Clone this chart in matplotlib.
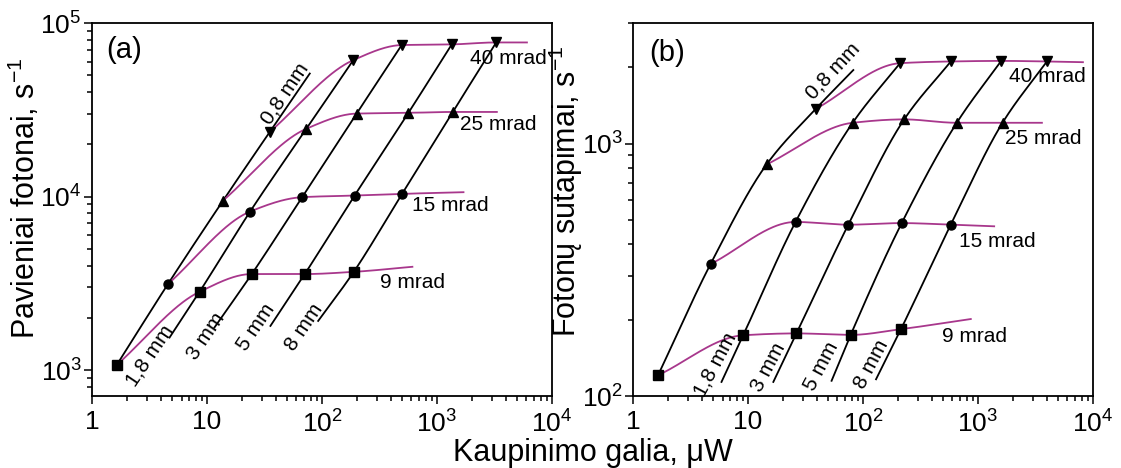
import numpy as np
import matplotlib
matplotlib.use('Agg')
import matplotlib.pyplot as plt
from matplotlib.ticker import LogLocator, NullFormatter

plt.rcParams['font.family'] = ['Liberation Sans', 'DejaVu Sans']
plt.rcParams['mathtext.fontset'] = 'custom'
plt.rcParams['mathtext.rm'] = 'Liberation Sans'
plt.rcParams['mathtext.it'] = 'Liberation Sans:italic'

# rows: slit width (mm), columns: divergence (mrad)
mm_labels = ['0,8 mm', '1,8 mm', '3 mm', '5 mm', '8 mm']
mrad_labels = ['9 mrad', '15 mrad', '25 mrad', '40 mrad']
x_tick_labels = ['1', '10', '10$^2$', '10$^3$', '10$^4$']

# panel (a): single photons
a_power = [[1.64, 4.57, 13.8, 35.1],
           [8.62, 23.7, 73.3, 187],
           [24.5, 67.2, 200, 493],
           [70.8, 192, 564, 1344],
           [189, 497, 1372, 3273]]
a_counts = [[1069, 3127, 9480, 23550],
            [2825, 8190, 24600, 61100],
            [3573, 9911, 30060, 74640],
            [3573, 10130, 30340, 75300],
            [3680, 10360, 30720, 77280]]
a_start_power = [4.72, 11.6, 35.6, 92.6]      # lower ends of 1,8 .. 8 mm lines
a_start_counts = [1538, 1758, 1795, 1918]
a_end_power = 78.3                             # upper end of 0,8 mm line
a_end_counts = 51160
a_tail_power = [611, 1700, 3316, 6056]         # right ends of mrad curves
a_tail_counts = [3935, 10590, 30720, 77280]

# panel (b): coincidences
b_power = [[1.65, 4.72, 14.5, 38.7],
           [9.08, 25.9, 81.3, 210],
           [26.4, 74.5, 228, 580],
           [78.1, 217, 654, 1592],
           [214, 580, 1634, 3975]]
b_counts = [[120.8, 333, 826, 1369],
            [174, 489, 1208, 2080],
            [177, 477, 1246, 2113],
            [174.6, 484, 1208, 2124],
            [184, 477, 1208, 2113]]
b_start_power = [5.88, 16.6, 53.3, 129.8]
b_start_counts = [113.7, 113.7, 114.9, 116.5]
b_end_power = 82.4
b_end_counts = 1954
b_tail_power = [866, 1383, 3597, 8180]
b_tail_counts = [201.8, 470, 1208, 2099]

markers = ['s', 'o', '^', 'v']
curve_color = '#a8378c'


def pchip(xs, ys, xn):
    # monotone cubic through the points, used only to draw smooth lines
    h = np.diff(xs)
    d = np.diff(ys) / h
    m = np.empty_like(ys)
    m[0] = d[0]
    m[-1] = d[-1]
    for k in range(1, len(xs) - 1):
        if d[k - 1] * d[k] <= 0:
            m[k] = 0
        else:
            w1 = 2 * h[k] + h[k - 1]
            w2 = h[k] + 2 * h[k - 1]
            m[k] = (w1 + w2) / (w1 / d[k - 1] + w2 / d[k])
    i = np.clip(np.searchsorted(xs, xn) - 1, 0, len(xs) - 2)
    t = (xn - xs[i]) / h[i]
    return ((2 * t**3 - 3 * t**2 + 1) * ys[i] + (t**3 - 2 * t**2 + t) * h[i] * m[i]
            + (-2 * t**3 + 3 * t**2) * ys[i + 1] + (t**3 - t**2) * h[i] * m[i + 1])


def smooth_plot(ax, x, y, **kw):
    lx = np.log10(np.asarray(x, float))
    ly = np.log10(np.asarray(y, float))
    xn = np.linspace(lx[0], lx[-1], 300)
    ax.plot(10**xn, 10**pchip(lx, ly, xn), **kw)


def panel(ax, power, counts, sp, sc, ep, ec, tp, tc):
    power = np.array(power)
    counts = np.array(counts)
    # black lines, one per slit
    for i in range(5):
        if i == 0:
            x = list(power[0]) + [ep]
            y = list(counts[0]) + [ec]
        else:
            x = [sp[i - 1]] + list(power[i])
            y = [sc[i - 1]] + list(counts[i])
        smooth_plot(ax, x, y, color='black', lw=1.3, zorder=2)
    # magenta curves, one per divergence
    for j in range(4):
        x = list(power[:, j]) + [tp[j]]
        y = list(counts[:, j]) + [tc[j]]
        smooth_plot(ax, x, y, color=curve_color, lw=1.3, zorder=3)
        ax.plot(power[:, j], counts[:, j], ls='none', marker=markers[j],
                color='black', ms=6.5, zorder=4)

    ax.set_xscale('log')
    ax.set_yscale('log')
    ax.set_xlim(1, 1e4)
    ax.set_xticks([1, 10, 100, 1000, 1e4])
    ax.set_xticklabels(x_tick_labels)
    ax.xaxis.set_minor_locator(LogLocator(base=10, subs=np.arange(2, 10)))
    ax.xaxis.set_minor_formatter(NullFormatter())
    ax.yaxis.set_minor_locator(LogLocator(base=10, subs=np.arange(2, 10)))
    ax.yaxis.set_minor_formatter(NullFormatter())
    ax.tick_params(which='both', direction='out', labelsize=19, width=1.1)
    ax.tick_params(which='major', length=6)
    ax.tick_params(which='minor', length=3.5)
    ax.tick_params(axis='x', pad=4)
    ax.tick_params(axis='y', pad=1.5)
    for s in ax.spines.values():
        s.set_linewidth(1.3)


fig = plt.figure(figsize=(11.21, 4.68), dpi=100)
ax1 = fig.add_axes([0.0821, 0.1538, 0.4103, 0.797])
ax2 = fig.add_axes([0.5647, 0.1538, 0.4103, 0.797])

panel(ax1, a_power, a_counts, a_start_power, a_start_counts,
      a_end_power, a_end_counts, a_tail_power, a_tail_counts)
ax1.set_ylim(708, 1e5)
ax1.set_yticks([1e3, 1e4, 1e5])
ax1.set_yticklabels(['10$^3$', '10$^4$', '10$^5$'])
ax1.set_ylabel('Pavieniai fotonai, s$^{-1}$', fontsize=22)
ax1.yaxis.set_label_coords(-0.108, 0.53)

panel(ax2, b_power, b_counts, b_start_power, b_start_counts,
      b_end_power, b_end_counts, b_tail_power, b_tail_counts)
ax2.set_ylim(100, 3000)
ax2.set_yticks([100, 1000])
ax2.set_yticklabels(['10$^2$', '10$^3$'])
ax2.set_ylabel('Fotonų sutapimai, s$^{-1}$', fontsize=22)
ax2.yaxis.set_label_coords(-0.104, 0.55)

# panel letters
ax1.text(1.32, 69800, '(a)', fontsize=21, va='center', ha='left')
ax2.text(1.38, 2280, '(b)', fontsize=21, va='center', ha='left')

# slit labels (a)
a_mm_pos = [(47.5, 39150), (3.16, 1206), (9.85, 1575), (26.5, 1758), (69.5, 1758)]
for lab, (x, y) in zip(mm_labels, a_mm_pos):
    ax1.text(x, y, lab, fontsize=15, rotation=56, ha='center', va='center',
             rotation_mode='anchor')
# divergence labels (a)
a_mrad_pos = [(319, 3201), (603, 8870), (1589, 25950), (1942, 62500)]
for lab, (x, y) in zip(mrad_labels, a_mrad_pos):
    ax1.text(x, y, lab, fontsize=15, ha='left', va='center')

# slit labels (b)
b_mm_pos = [(55.2, 1928), (5.14, 133.7), (15.0, 129.7), (43.6, 131.6), (119, 133.7)]
b_mm_rot = [47, 62, 62, 62, 62]
for lab, (x, y), r in zip(mm_labels, b_mm_pos, b_mm_rot):
    ax2.text(x, y, lab, fontsize=15, rotation=r, ha='center', va='center',
             rotation_mode='anchor')
b_mrad_pos = [(484, 172), (690, 409), (1725, 1047), (1844, 1842)]
for lab, (x, y) in zip(mrad_labels, b_mrad_pos):
    ax2.text(x, y, lab, fontsize=15, ha='left', va='center')

fig.text(0.529, 0.015, 'Kaupinimo galia, μW', fontsize=22, ha='center', va='baseline')

fig.savefig('out.png', dpi=100)
